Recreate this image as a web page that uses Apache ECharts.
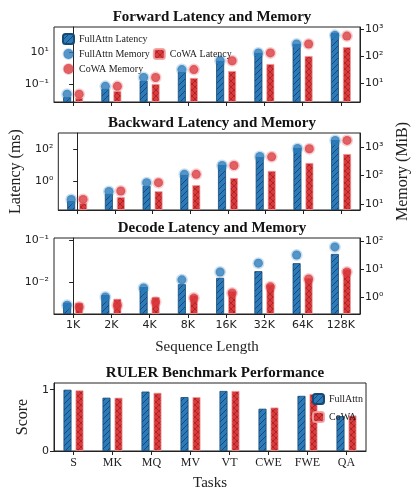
<!DOCTYPE html>
<html lang="en">
<head>
<meta charset="UTF-8">
<script src="https://cdn.jsdelivr.net/npm/echarts@6/dist/echarts.min.js"></script>
<style>
  html, body { margin: 0; padding: 0; background: #fff; }
  #main { width: 420px; height: 492px; }
</style>
</head>
<body>
<div id="main"></div>
<script>
  var seqLens = ['1K', '2K', '4K', '8K', '16K', '32K', '64K', '128K'];
  var tasks = ['S', 'MK', 'MQ', 'MV', 'VT', 'CWE', 'FWE', 'QA'];

  // forward (ms / MiB)
  var fwdFullLat = [0.015, 0.049, 0.155, 0.56, 2.75, 8.7, 31.6, 155];
  var fwdCowaLat = [0.0135, 0.036, 0.1, 0.24, 0.65, 1.78, 5.6, 20.4];
  var fwdFullMem = [3.8, 7.4, 15.8, 31, 66, 129, 275, 575];
  var fwdCowaMem = [3.8, 7.4, 15.8, 31, 66, 129, 275, 540];
  // backward
  var bwdFullLat = [0.056, 0.155, 0.49, 2.37, 10, 31.6, 115, 363];
  var bwdCowaLat = [0.042, 0.1, 0.23, 0.56, 1.55, 4.3, 13.5, 49];
  var bwdFullMem = [14.5, 27.5, 56, 110, 224, 468, 890, 1700];
  var bwdCowaMem = [14.5, 28.5, 56, 110, 224, 450, 870, 1700];
  // decode
  var decFullLat = [0.0032, 0.0049, 0.0076, 0.0089, 0.0126, 0.0182, 0.0282, 0.0468];
  var decCowaLat = [0.0032, 0.004, 0.0044, 0.0049, 0.0062, 0.0089, 0.0126, 0.0204];
  var decFullMem = [0.51, 1.0, 2.1, 4.1, 7.8, 16.2, 31.6, 61.7];
  var decCowaMem = [0.44, 0.51, 0.66, 0.91, 1.38, 2.3, 4.4, 7.8];
  // RULER
  var rulerFull = [1.0, 0.87, 0.97, 0.88, 0.98, 0.69, 0.9, 0.57];
  var rulerCowa = [0.99, 0.87, 0.95, 0.88, 0.98, 0.71, 0.93, 0.58];

  var BLUE = '#2b7bba', RED = '#db3a3d';
  var SERIF = '"Liberation Serif", "DejaVu Serif", serif';
  var SANS = '"DejaVu Sans", sans-serif';

  function hatch(bg, line, cross) {
    var c = document.createElement('canvas');
    c.width = 6; c.height = 6;
    var g = c.getContext('2d');
    g.fillStyle = bg; g.fillRect(0, 0, 6, 6);
    g.strokeStyle = line; g.lineWidth = 0.8;
    g.beginPath();
    g.moveTo(0, 6); g.lineTo(6, 0);
    g.moveTo(-3, 3); g.lineTo(3, -3);
    g.moveTo(3, 9); g.lineTo(9, 3);
    if (cross) {
      g.moveTo(0, 0); g.lineTo(6, 6);
      g.moveTo(-3, 3); g.lineTo(3, 9);
      g.moveTo(3, -3); g.lineTo(9, 3);
    }
    g.stroke();
    return { image: c, repeat: 'repeat' };
  }
  var bluePat = hatch(BLUE, 'rgba(10,30,70,0.7)', false);
  var redPat = hatch(RED, 'rgba(120,10,10,0.55)', true);

  var supMap = { '-': '⁻', '0': '⁰', '1': '¹', '2': '²', '3': '³', '4': '⁴' };
  function pow10(n) {
    return '10' + String(n).split('').map(function (ch) { return supMap[ch]; }).join('');
  }
  function log10(v) { return Math.log(v) / Math.LN10; }

  var panels = [
    { top: 27, h: 75, lMin: -2.125, lMax: 2.56, lTicks: [-1, 1], rMin: 0.29, rMax: 3.07, rTicks: [1, 2, 3],
      fl: fwdFullLat, cl: fwdCowaLat, fm: fwdFullMem, cm: fwdCowaMem },
    { top: 133, h: 77, lMin: -1.81, lMax: 3.0, lTicks: [0, 2], rMin: 0.79, rMax: 3.49, rTicks: [1, 2, 3],
      fl: bwdFullLat, cl: bwdCowaLat, fm: bwdFullMem, cm: bwdCowaMem },
    { top: 238, h: 76, lMin: -2.76, lMax: -0.95, lTicks: [-2, -1], rMin: -0.61, rMax: 2.11, rTicks: [0, 1, 2],
      fl: decFullLat, cl: decCowaLat, fm: decFullMem, cm: decCowaMem }
  ];
  var titles = ['Forward Latency and Memory', 'Backward Latency and Memory', 'Decode Latency and Memory'];

  var grid = [], xAxis = [], yAxis = [], series = [], title = [];
  var axisLine = { show: true, lineStyle: { color: '#222', width: 1 } };
  var tickStyle = { show: true, length: 4, lineStyle: { color: '#222' } };

  function logAxis(gi, mn, mx, ticks, pos) {
    var vals = ticks.map(function (t) { return t - mn; });
    return {
      type: 'value', gridIndex: gi, position: pos, min: 0, max: mx - mn,
      axisLine: axisLine, splitLine: { show: false },
      axisTick: { show: true, length: 4, lineStyle: { color: '#222' }, customValues: vals },
      axisLabel: { customValues: vals, color: '#222', fontFamily: SANS, fontSize: 11, margin: 5,
        formatter: function (v) { return pow10(Math.round(v + mn)); } }
    };
  }

  panels.forEach(function (p, i) {
    grid.push({ left: 54, width: 306, top: p.top, height: p.h, show: true, borderColor: '#222', borderWidth: 1 });
    title.push({ text: titles[i], left: 207, top: p.top - 22, textAlign: 'center',
      textStyle: { fontFamily: SERIF, fontWeight: 'bold', fontSize: 15, color: '#111' } });
    var last = i === 2;
    xAxis.push({ type: 'category', gridIndex: i, data: seqLens, axisLine: axisLine,
      axisTick: { show: true, length: 4, alignWithLabel: true, lineStyle: { color: '#222' } },
      axisLabel: { show: last, color: '#222', fontFamily: SANS, fontSize: 11, margin: 6 },
      name: last ? 'Sequence Length' : '', nameLocation: 'middle', nameGap: 26,
      nameTextStyle: { fontFamily: SERIF, fontSize: 15, color: '#222' } });
    xAxis.push({ type: 'value', gridIndex: i, min: -0.5, max: 7.5, show: false });
    var la = logAxis(i, p.lMin, p.lMax, p.lTicks, 'left');
    var ra = logAxis(i, p.rMin, p.rMax, p.rTicks, 'right');
    if (i === 1) {
      la.name = 'Latency (ms)'; la.nameLocation = 'middle'; la.nameGap = 34;
      la.nameTextStyle = { fontFamily: SERIF, fontSize: 16, color: '#222' };
      ra.name = 'Memory (MiB)'; ra.nameLocation = 'middle'; ra.nameGap = 34;
      ra.nameTextStyle = { fontFamily: SERIF, fontSize: 16, color: '#222' };
    }
    yAxis.push(la, ra);
    var xi = i * 2, yi = i * 2;
    var shiftL = function (arr) { return arr.map(function (v) { return log10(v) - p.lMin; }); };
    var dots = function (arr, off) {
      return arr.map(function (v, k) { return [k + off, log10(v) - p.rMin]; });
    };
    series.push(
      { name: 'FullAttn Latency', type: 'bar', xAxisIndex: xi, yAxisIndex: yi, data: shiftL(p.fl),
        barWidth: 8, barGap: '50%', itemStyle: { color: bluePat, borderColor: '#174a73', borderWidth: 0.8 } },
      { name: 'CoWA Latency', type: 'bar', xAxisIndex: xi, yAxisIndex: yi, data: shiftL(p.cl),
        barWidth: 8, barGap: '50%', itemStyle: { color: redPat, borderColor: 'rgba(240,160,160,0.9)', borderWidth: 0.8 } },
      { name: 'FullAttn Memory', type: 'scatter', xAxisIndex: xi + 1, yAxisIndex: yi + 1, data: dots(p.fm, -0.157),
        symbolSize: 9, itemStyle: { color: BLUE, borderColor: 'rgba(43,123,186,0.3)', borderWidth: 3 } },
      { name: 'CoWA Memory', type: 'scatter', xAxisIndex: xi + 1, yAxisIndex: yi + 1, data: dots(p.cm, 0.157),
        symbolSize: 9, itemStyle: { color: RED, borderColor: 'rgba(219,58,61,0.3)', borderWidth: 3 } }
    );
  });

  // RULER panel
  grid.push({ left: 54, width: 312, top: 383, height: 69, show: true, borderColor: '#222', borderWidth: 1 });
  title.push({ text: 'RULER Benchmark Performance', left: 210, top: 361, textAlign: 'center',
    textStyle: { fontFamily: SERIF, fontWeight: 'bold', fontSize: 15, color: '#111' } });
  xAxis.push({ type: 'category', gridIndex: 3, data: tasks, axisLine: axisLine,
    axisTick: { show: true, length: 4, alignWithLabel: true, lineStyle: { color: '#222' } },
    axisLabel: { color: '#222', fontFamily: SERIF, fontSize: 12, margin: 6 },
    name: 'Tasks', nameLocation: 'middle', nameGap: 25,
    nameTextStyle: { fontFamily: SERIF, fontSize: 15, color: '#222' } });
  yAxis.push({ type: 'value', gridIndex: 3, min: 0, max: 1.11, axisLine: axisLine, splitLine: { show: false },
    axisTick: { show: true, length: 4, lineStyle: { color: '#222' }, customValues: [0, 1] },
    axisLabel: { customValues: [0, 1], color: '#222', fontFamily: SANS, fontSize: 11, margin: 5 },
    name: 'Score', nameLocation: 'middle', nameGap: 22,
    nameTextStyle: { fontFamily: SERIF, fontSize: 16, color: '#222' } });
  series.push(
    { name: 'FullAttn', type: 'bar', xAxisIndex: 6, yAxisIndex: 6, data: rulerFull, barWidth: 8, barGap: '50%',
      itemStyle: { color: bluePat, borderColor: '#174a73', borderWidth: 0.8 } },
    { name: 'CoWA', type: 'bar', xAxisIndex: 6, yAxisIndex: 6, data: rulerCowa, barWidth: 8, barGap: '50%',
      itemStyle: { color: redPat, borderColor: 'rgba(240,160,160,0.9)', borderWidth: 0.8 } }
  );

  var legendText = { fontFamily: SERIF, fontSize: 10, color: '#222' };
  var chart = echarts.init(document.getElementById('main'));
  chart.setOption({
    animation: false,
    title: title,
    grid: grid,
    xAxis: xAxis,
    yAxis: yAxis,
    legend: [
      { left: 62, top: 33, width: 170, itemWidth: 11, itemHeight: 10, itemGap: 3, padding: 0,
        textStyle: legendText,
        data: [{ name: 'FullAttn Latency' }, { name: 'FullAttn Memory', icon: 'circle' },
               { name: 'CoWA Latency' }, { name: 'CoWA Memory', icon: 'circle' }] },
      { left: 312, top: 393, orient: 'vertical', itemWidth: 11, itemHeight: 10, itemGap: 6, padding: 0,
        textStyle: legendText, data: ['FullAttn', 'CoWA'] }
    ],
    series: series
  });
</script>
</body>
</html>
